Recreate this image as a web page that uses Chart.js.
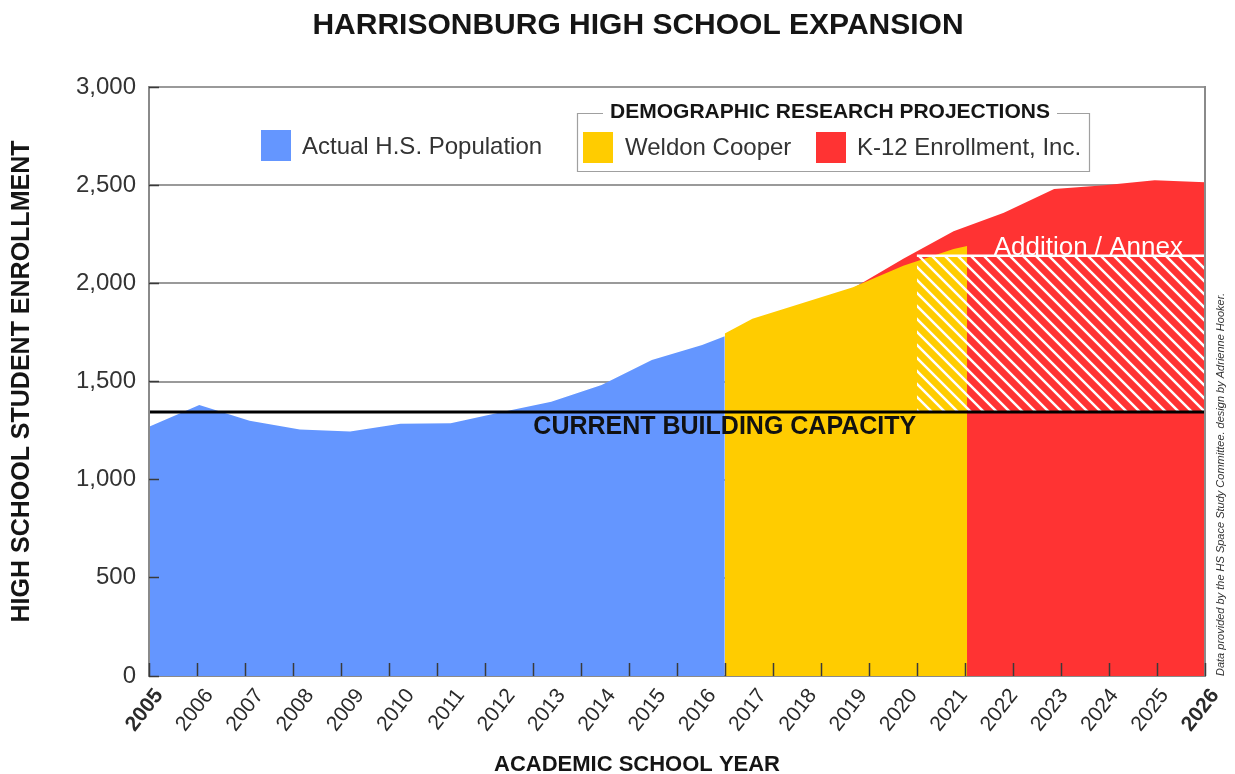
<!DOCTYPE html>
<html>
<head>
<meta charset="utf-8">
<title>Harrisonburg High School Expansion</title>
<script src="https://cdn.jsdelivr.net/npm/chart.js@4.4.1/dist/chart.umd.min.js"></script>
<style>
  html, body { margin: 0; padding: 0; background: #fff; }
  #wrap { position: relative; width: 1235px; height: 774px; }
</style>
</head>
<body>
<div id="wrap"><canvas id="myChart" width="1235" height="774"></canvas></div>
<script>
// x axis labels (academic school year)
const years = [2005, 2006, 2007, 2008, 2009, 2010, 2011, 2012, 2013, 2014, 2015,
               2016, 2017, 2018, 2019, 2020, 2021, 2022, 2023, 2024, 2025, 2026];

// actual H.S. population (blue)
const actualYears  = [2005, 2006, 2007, 2008, 2009, 2010, 2011, 2012, 2013, 2014, 2015, 2016, 2016.45];
const actualCounts = [1270, 1380, 1300, 1255, 1245, 1285, 1287, 1343, 1397, 1482, 1610, 1686, 1730];

// Weldon Cooper projection (yellow)
const weldonYears  = [2016.45, 2017, 2018, 2019, 2020, 2021, 2021.27];
const weldonCounts = [1745, 1820, 1900, 1980, 2090, 2175, 2190];

// K-12 Enrollment, Inc. projection (red)
const k12Years  = [2019, 2020, 2021, 2022, 2023, 2024, 2025, 2026];
const k12Counts = [1975, 2125, 2265, 2360, 2480, 2500, 2525, 2515];

// building capacity and planned addition / annex
const capacity = 1345;
const annexYears = [2020.27, 2026];
const annexTop = 2140;

const FONT = '"Liberation Sans", Arial, sans-serif';
const BLUE = '#6496ff';
const YELLOW = '#ffcc00';
const RED = '#ff3333';

function makeHatch() {
  const size = 13;
  const c = document.createElement('canvas');
  c.width = size; c.height = size;
  const g = c.getContext('2d');
  g.strokeStyle = '#fff';
  g.lineWidth = 2.5;
  g.beginPath();
  g.moveTo(-2, -2); g.lineTo(size + 2, size + 2);
  g.moveTo(-2, size - 2); g.lineTo(2, size + 2);
  g.moveTo(size - 2, -2); g.lineTo(size + 2, 2);
  g.stroke();
  return g.createPattern(c, 'repeat');
}

function pts(xs, ys) {
  return xs.map((x, i) => ({ x: x, y: ys[i] }));
}

const decorations = {
  id: 'decorations',
  afterDatasetsDraw(chart) {
    const { ctx, chartArea: a, scales: { x, y } } = chart;
    ctx.save();
    ctx.font = 'bold 25px ' + FONT;
    ctx.fillStyle = '#111';
    ctx.textAlign = 'center';
    ctx.textBaseline = 'top';
    ctx.fillText('CURRENT BUILDING CAPACITY', x.getPixelForValue(actualYears[actualYears.length - 1]),
                 y.getPixelForValue(capacity) + 3);

    ctx.font = '26px ' + FONT;
    ctx.fillStyle = '#fff';
    ctx.textAlign = 'right';
    ctx.textBaseline = 'alphabetic';
    ctx.fillText('Addition / Annex', a.right - 22, y.getPixelForValue(annexTop) - 1);
    ctx.restore();
  },
  afterDraw(chart) {
    const { ctx, chartArea: a } = chart;
    ctx.save();
    ctx.fillStyle = '#151515';
    ctx.textBaseline = 'middle';
    ctx.textAlign = 'center';

    // main title
    ctx.font = 'bold 30px ' + FONT;
    ctx.fillText('HARRISONBURG HIGH SCHOOL EXPANSION', 638, 26);

    // axis titles
    ctx.font = 'bold 22px ' + FONT;
    ctx.fillText('ACADEMIC SCHOOL YEAR', 637, 765);
    ctx.save();
    ctx.translate(22, (a.top + a.bottom) / 2);
    ctx.rotate(-Math.PI / 2);
    ctx.font = 'bold 25px ' + FONT;
    ctx.fillText('HIGH SCHOOL STUDENT ENROLLMENT', 0, 0);
    ctx.restore();

    // credit line on the right
    ctx.save();
    ctx.translate(1221, a.bottom);
    ctx.rotate(-Math.PI / 2);
    ctx.font = 'italic 11px ' + FONT;
    ctx.fillStyle = '#333';
    ctx.textAlign = 'left';
    ctx.fillText('Data provided by the HS Space Study Committee. design by Adrienne Hooker.', 0, 0);
    ctx.restore();

    // legend
    ctx.font = '24px ' + FONT;
    ctx.textAlign = 'left';
    ctx.fillStyle = BLUE;   ctx.fillRect(261, 130, 30, 31);
    ctx.fillStyle = YELLOW; ctx.fillRect(583, 132, 30, 31);
    ctx.fillStyle = RED;    ctx.fillRect(816, 132, 30, 31);
    ctx.fillStyle = '#333';
    ctx.fillText('Actual H.S. Population', 302, 147);
    ctx.fillText('Weldon Cooper', 625, 148);
    ctx.fillText('K-12 Enrollment, Inc.', 857, 148);

    // projections group box
    ctx.strokeStyle = '#a0a0a0';
    ctx.lineWidth = 1.2;
    ctx.beginPath();
    ctx.moveTo(603, 113.5);
    ctx.lineTo(577.5, 113.5);
    ctx.lineTo(577.5, 171.5);
    ctx.lineTo(1089.5, 171.5);
    ctx.lineTo(1089.5, 113.5);
    ctx.lineTo(1057, 113.5);
    ctx.stroke();
    ctx.font = 'bold 21px ' + FONT;
    ctx.fillStyle = '#151515';
    ctx.textAlign = 'center';
    ctx.fillText('DEMOGRAPHIC RESEARCH PROJECTIONS', 830, 112);
    ctx.restore();
  }
};

window.addEventListener('load', setup);

function setup() {
  const ctx = document.getElementById('myChart').getContext('2d');
  const myChart = new Chart(ctx, {
    type: 'line',
    data: {
      datasets: [
        {
          label: 'Current building capacity',
          data: pts([years[0], years[years.length - 1]], [capacity, capacity]),
          borderColor: '#000',
          borderWidth: 3,
          fill: false,
          order: 0
        },
        {
          label: 'Addition / Annex',
          data: pts(annexYears, [annexTop, annexTop]),
          borderColor: '#fff',
          borderWidth: 2.5,
          backgroundColor: makeHatch(),
          fill: { value: capacity },
          order: 1
        },
        {
          label: 'Actual H.S. Population',
          data: pts(actualYears, actualCounts),
          borderColor: BLUE,
          borderWidth: 0,
          backgroundColor: BLUE,
          fill: 'origin',
          order: 2
        },
        {
          label: 'Weldon Cooper',
          data: pts(weldonYears, weldonCounts),
          borderColor: YELLOW,
          borderWidth: 0,
          backgroundColor: YELLOW,
          fill: 'origin',
          order: 3
        },
        {
          label: 'K-12 Enrollment, Inc.',
          data: pts(k12Years, k12Counts),
          borderColor: RED,
          borderWidth: 0,
          backgroundColor: RED,
          fill: 'origin',
          order: 4
        }
      ]
    },
    options: {
      responsive: false,
      animation: false,
      layout: { padding: { top: 87, right: 30, left: 0, bottom: 0 } },
      elements: { point: { radius: 0 }, line: { tension: 0 } },
      plugins: { legend: { display: false }, tooltip: { enabled: false } },
      scales: {
        x: {
          type: 'linear',
          min: years[0],
          max: years[years.length - 1],
          afterFit: s => { s.height = 98; },
          grid: { display: false, drawTicks: false },
          border: { display: true, color: '#8a8a8a', width: 2 },
          ticks: {
            stepSize: 1,
            autoSkip: false,
            minRotation: 52,
            maxRotation: 52,
            padding: 8,
            labelOffset: 10,
            color: '#2a2a2a',
            font: c => ({ family: FONT, size: 21,
                          weight: (c.index === 0 || c.index === years.length - 1) ? 'bold' : 'normal' }),
            callback: v => String(v)
          }
        },
        y: {
          min: 0,
          max: 3000,
          afterFit: s => { s.width = 149; },
          ticks: { stepSize: 500, padding: 13, color: '#333', font: { family: FONT, size: 24 },
                   callback: v => v.toLocaleString('en-US') },
          grid: { color: '#9a9a9a', lineWidth: 2, drawTicks: false },
          border: { color: '#8a8a8a', width: 2, z: 1 }
        },
        yR: {
          position: 'right',
          min: 0,
          max: 3000,
          ticks: { display: false },
          grid: { drawOnChartArea: false, drawTicks: false },
          border: { color: '#8a8a8a', width: 2, z: 1 }
        },
        xs: {
          type: 'linear',
          min: 0,
          max: 22,
          position: { y: 66 },
          ticks: { display: false, stepSize: 1 },
          grid: { drawOnChartArea: false, tickLength: 13, tickColor: '#3a3a3a', tickWidth: 1.5, z: 1 },
          border: { display: false }
        },
        ys: {
          min: 0,
          max: 3000,
          position: { x: 2005.2 },
          ticks: { display: false, stepSize: 500 },
          grid: { drawOnChartArea: false, tickLength: 10, tickColor: '#3a3a3a', tickWidth: 1.5, z: 1 },
          border: { display: false }
        }
      }
    },
    plugins: [decorations]
  });
}
</script>
</body>
</html>
